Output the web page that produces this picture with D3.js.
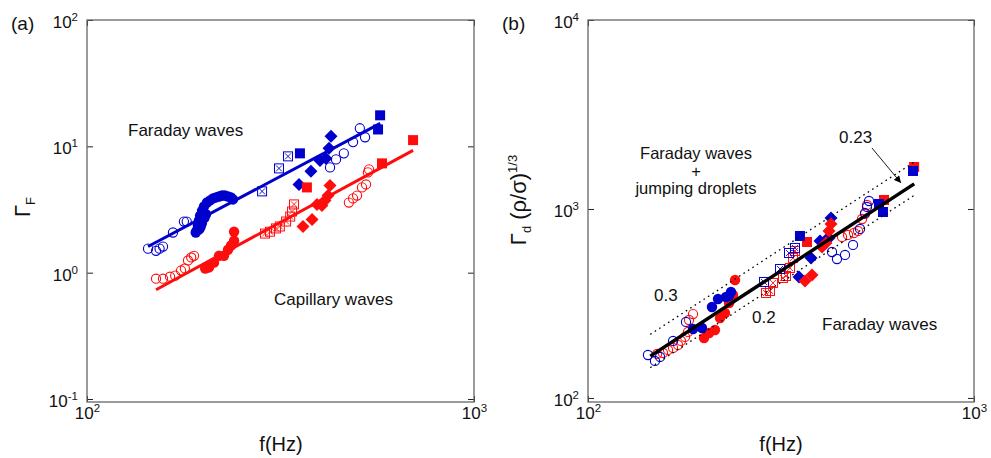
<!DOCTYPE html>
<html>
<head>
<meta charset="utf-8">
<script src="https://cdn.jsdelivr.net/npm/d3@7"></script>
<style>
  body { margin: 0; background: #fff; }
  text { font-family: "Liberation Sans", Arial, Helvetica, sans-serif; fill: #111; }
</style>
</head>
<body>
<svg id="chart" width="991" height="458"></svg>
<script>
// ---- axes ----
const xTicks = [100, 1000];
const yTicksA = [0.1, 1, 10, 100];
const yTicksB = [100, 1000, 10000];

// ---- panel (a): threshold acceleration Γ_F against f (Hz) ----
const aBlueOpen = [[143.8,1.55],[150.8,1.49],[154,1.55],[157.2,1.61],[166.8,2.08],[178,2.54],[181,2.54],
  [424.6,6.81],[440,7.88],[461,8.80],[487,10.8],[507,13.9],[523,11.8]];
const aBlueFilled = [[191,2.08],[192,2.15],[195,2.2],[196.5,2.3],[193.5,2.36],[198,2.45],[194.7,2.59],[201,2.7],
  [196,2.83],[203,2.9],[198.3,3.10],[200.6,3.34],[204.2,3.59],[208,3.73],[211.6,3.87],[215.4,3.94],
  [219.3,4.01],[223.3,4.08],[227,4.08],[231.4,4.01],[235.6,3.94],[238.4,3.80]];
const aBlueBoxed = [[283.4,4.40],[313.4,6.69],[330.7,8.33]];
const aBlueDiamond = [[353,4.99],[379,6.34],[400,7.74],[414.5,8.03],[422,9.64],[427,12.0]];
const aBlueSquare = [[355,8.80],[565,13.6],[572,17.6]];
const aRedOpen = [[150.8,0.896],[157.2,0.896],[163.9,0.929],[169,0.947],[175,1.04],[179,1.08],[182.4,1.25],[185.9,1.32],[189,1.36],
  [475,3.59],[487,3.87],[498.6,4.08],[513.5,4.73],[526,4.99],[532,6.22],[535.5,6.57]];
const aRedFilled = [[202,1.08],[206.7,1.10],[212.9,1.20],[219.3,1.36],[225.9,1.36],[231.4,1.52],[235.6,1.64],[239.9,1.79],[239.9,2.11]];
const aRedBoxed = [[288.4,2.04],[297,2.11],[307.9,2.24],[315,2.32],[326.9,2.54],[335,2.78],[338.7,3.05],[342.7,3.47]];
const aRedDiamond = [[361.5,2.32],[381.5,2.63],[392.9,3.47],[404.7,3.40],[412,3.73],[419.5,4.08],[424.6,4.90]];
const aRedSquare = [[370,4.73],[578.4,7.33],[695.9,11.2]];
// fitted power laws (end points)
const aBlueFit = [[143.8,1.61],[572.4,15.2]];
const aRedFit = [[150.8,0.733],[695.9,9.30]];

// ---- panel (b): Γ_d (ρ/σ)^(1/3) against f (Hz) ----
const bBlueOpen = [[143,168.8],[149.1,157],[153.7,164.8],[166.1,200.3],[179.4,252.5],
  [428.7,592],[441.6,543.6],[463.3,571],[485.9,645],[506.7,784],[522,952],[528.3,1025],[534.6,1102]];
const bRedOpen = [[151,171],[156.4,173],[161.2,179.5],[166.1,184],[171.1,190.8],[174.1,200.3],[178.4,210.3],[181.6,223.5],[182.7,258.6],[187.1,278],
  [455,711],[471.7,728.6],[488.9,746.5],[500.6,765],[512.8,885],[522,941],[528.3,1050]];
const bBlueFilled = [[187.1,231.7],[197.4,234.6],[209.5,303],[217.2,334],[227.8,342],[232,346.6],[234.7,364]];
const bRedFilled = [[199.8,207.7],[205.9,220.8],[213.3,229],[219.8,265],[226.4,281.6],[232,318],[237.5,350.8],[240.4,421]];
const bBlueBoxed = [[285.8,411],[314.4,481.4],[331.7,585],[343.8,622]];
const bRedBoxed = [[289.2,359.4],[296.2,368.2],[301.5,406],[320,431.5],[325.8,442],[333.7,487.3],[339.8,550.6],[343.8,599.5]];
const bBlueDiamond = [[352.1,436.6],[378.3,550.6],[399,677],[413.6,685.5],[421.1,702.5],[426.2,896.5]];
const bRedDiamond = [[364.9,415.9],[380.5,447.7],[403.9,629.5],[413.6,660.7],[421.1,765],[426.2,833]];
const bBlueSquare = [[354.1,719.7],[567.4,1063],[581,964],[695,1589]];
const bRedSquare = [[369.3,669],[584.6,1116],[699.6,1668]];
// prefactors c of the scaling c·K·f^(4/3)
const bFitCoef = [0.2, 0.23, 0.3];
const bFitK = 0.95;
const bFitRange = [145, 700];

const BLUE = "#0000cc", RED = "#ff0d0d";
const svg = d3.select("#chart");
const TOP = 20, BOTTOM = 402;

function powLabel(sel) {
  sel.each(function(d) {
    const e = Math.round(Math.log10(d));
    const t = d3.select(this);
    t.text(null);
    t.append("tspan").text("10");
    t.append("tspan").attr("dy", -7).attr("font-size", "11.5px").text(e);
  });
}

function makePanel(x0, x1, yDom, yTicks) {
  const x = d3.scaleLog().domain([100, 1000]).range([x0, x1]);
  const y = d3.scaleLog().domain(yDom).range([BOTTOM, TOP]);
  const g = svg.append("g");
  const axCol = "#666";
  const left = g.append("g").attr("transform", `translate(${x0},0)`)
    .call(d3.axisLeft(y).tickValues(yTicks).tickSize(-6).tickPadding(9));
  left.selectAll("text").attr("font-size", "17px").attr("dy", "0.45em").call(powLabel);
  g.append("g").attr("transform", `translate(${x1},0)`)
    .call(d3.axisRight(y).tickValues(yTicks).tickSize(-6).tickFormat(""));
  const bot = g.append("g").attr("transform", `translate(0,${BOTTOM})`)
    .call(d3.axisBottom(x).tickValues(xTicks).tickSize(-6).tickPadding(5));
  bot.selectAll("text").attr("font-size", "17px").call(powLabel);
  g.append("g").attr("transform", `translate(0,${TOP})`)
    .call(d3.axisTop(x).tickValues(xTicks).tickSize(-6).tickFormat(""));
  g.selectAll(".domain").remove();
  g.selectAll(".tick line").attr("stroke", "#222").attr("stroke-width", 1);
  g.append("rect").attr("x", x0).attr("y", TOP).attr("width", x1 - x0).attr("height", BOTTOM - TOP)
    .attr("fill", "none").attr("stroke", axCol).attr("stroke-width", 1.3);
  const plot = g.append("g");
  return { x, y, g, plot };
}

function markers(p, data, kind, color) {
  const sel = p.plot.append("g").selectAll("g").data(data).join("g")
    .attr("transform", d => `translate(${p.x(d[0])},${p.y(d[1])})`);
  if (kind === "open") {
    sel.append("circle").attr("r", 4.6).attr("fill", "none").attr("stroke", color).attr("stroke-width", 1.1);
  } else if (kind === "dot") {
    sel.append("circle").attr("r", 5.2).attr("fill", color);
  } else if (kind === "square") {
    sel.append("rect").attr("x", -5).attr("y", -5).attr("width", 10).attr("height", 10).attr("fill", color);
  } else if (kind === "boxed") {
    sel.append("rect").attr("x", -4.5).attr("y", -4.5).attr("width", 9).attr("height", 9)
      .attr("fill", "none").attr("stroke", color).attr("stroke-width", 1);
    sel.append("path").attr("d", "M-3,-3L3,3M-3,3L3,-3").attr("stroke", color).attr("stroke-width", 0.9);
  } else if (kind === "diamond") {
    sel.append("path").attr("d", "M0,-6.5L6.5,0L0,6.5L-6.5,0Z").attr("fill", color);
  }
}

const line = p => d3.line().x(d => p.x(d[0])).y(d => p.y(d[1]));

// ----- panel (a) -----
const pa = makePanel(87, 474, [0.0947, 100], yTicksA);
markers(pa, aRedOpen, "open", RED);
markers(pa, aBlueOpen, "open", BLUE);
markers(pa, aBlueFilled, "dot", BLUE);
markers(pa, aRedFilled, "dot", RED);
markers(pa, aBlueBoxed, "boxed", BLUE);
markers(pa, aRedBoxed, "boxed", RED);
markers(pa, aBlueDiamond, "diamond", BLUE);
markers(pa, aRedDiamond, "diamond", RED);
markers(pa, aBlueSquare, "square", BLUE);
markers(pa, aRedSquare, "square", RED);
pa.plot.append("path").datum(aBlueFit).attr("d", line(pa)).attr("stroke", BLUE).attr("stroke-width", 3).attr("fill", "none");
pa.plot.append("path").datum(aRedFit).attr("d", line(pa)).attr("stroke", RED).attr("stroke-width", 3).attr("fill", "none");

// ----- panel (b) -----
const pb = makePanel(588, 974, [95.2, 10000], yTicksB);
markers(pb, bRedOpen, "open", RED);
markers(pb, bBlueOpen, "open", BLUE);
markers(pb, bRedFilled, "dot", RED);
markers(pb, bBlueFilled, "dot", BLUE);
markers(pb, bRedBoxed, "boxed", RED);
markers(pb, bBlueBoxed, "boxed", BLUE);
markers(pb, bBlueDiamond, "diamond", BLUE);
markers(pb, bRedDiamond, "diamond", RED);
markers(pb, bRedSquare, "square", RED);
markers(pb, bBlueSquare, "square", BLUE);
bFitCoef.forEach(c => {
  const pts = bFitRange.map(f => [f, c * bFitK * Math.pow(f, 4 / 3)]);
  const main = c === 0.23;
  pb.plot.append("path").datum(pts).attr("d", line(pb)).attr("fill", "none")
    .attr("stroke", "#000")
    .attr("stroke-width", main ? 3.5 : 1.3)
    .attr("stroke-dasharray", main ? null : "1.6,3.7");
});

// arrow pointing at the 0.23 line
svg.append("defs").append("marker").attr("id", "ah").attr("viewBox", "0 0 10 10")
  .attr("refX", 10).attr("refY", 5).attr("markerWidth", 9).attr("markerHeight", 7)
  .attr("markerUnits", "userSpaceOnUse").attr("orient", "auto")
  .append("path").attr("d", "M0,0L10,5L0,10Z").attr("fill", "#000");
pb.plot.append("line")
  .attr("x1", pb.x(544)).attr("y1", pb.y(2102))
  .attr("x2", pb.x(647)).attr("y2", pb.y(1373))
  .attr("stroke", "#000").attr("stroke-width", 0.9).attr("marker-end", "url(#ah)");

// ----- text -----
function txt(x, y, s, size, anchor) {
  return svg.append("text").attr("x", x).attr("y", y).attr("font-size", size + "px")
    .attr("text-anchor", anchor || "start").text(s);
}
txt(11, 30, "(a)", 19);
txt(502, 30, "(b)", 19);
txt(128, 136, "Faraday waves", 17);
txt(274, 305, "Capillary waves", 17);
// stacked three-line note: plain text lines with tight leading
const note = svg.append("text").attr("font-size", "16.5px").attr("text-anchor", "middle");
note.append("tspan").attr("x", 696).attr("y", 159).text("Faraday waves");
note.append("tspan").attr("x", 696).attr("y", 177).text("+");
note.append("tspan").attr("x", 696).attr("y", 194).text("jumping droplets");
txt(839, 143, "0.23", 17);
txt(654, 301, "0.3", 17);
txt(752, 323, "0.2", 17);
txt(822, 330, "Faraday waves", 17);
txt(281, 451, "f(Hz)", 20, "middle");
txt(781, 451, "f(Hz)", 20, "middle");

// y-axis titles
const ya = svg.append("text").attr("transform", "translate(30,207) rotate(-90)")
  .attr("text-anchor", "middle").attr("font-size", "22px");
ya.append("tspan").text("Γ");
ya.append("tspan").attr("font-size", "13px").attr("dy", 5).text("F");

const yb = svg.append("text").attr("transform", "translate(526,200) rotate(-90)")
  .attr("text-anchor", "middle").attr("font-size", "22px");
yb.append("tspan").text("Γ");
yb.append("tspan").attr("font-size", "13px").attr("dy", 5).text("d");
yb.append("tspan").attr("dy", -5).text(" (ρ/σ)");
yb.append("tspan").attr("font-size", "13px").attr("dy", -9).text("1/3");
</script>
</body>
</html>
